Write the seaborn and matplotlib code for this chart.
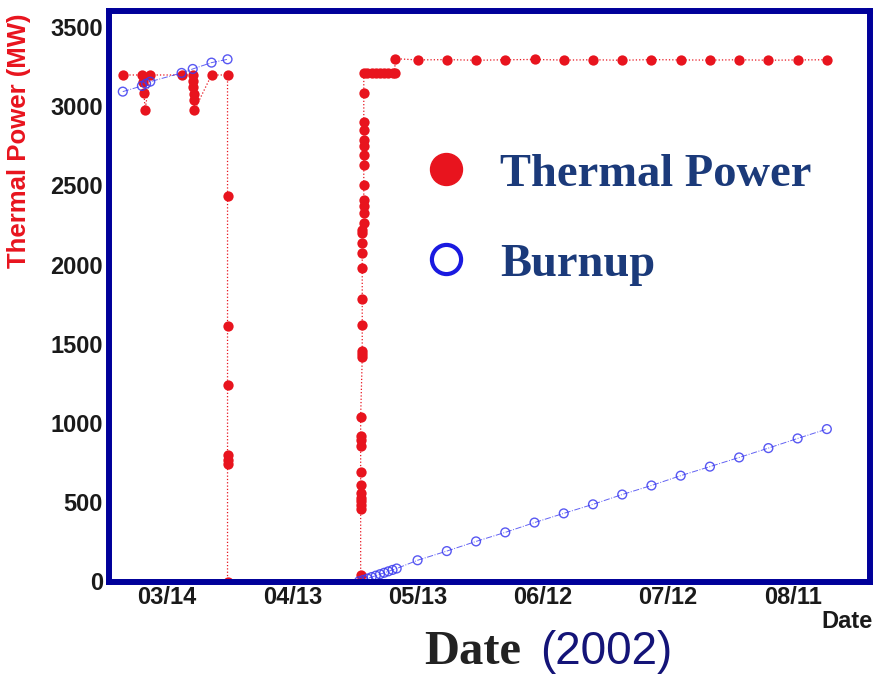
import matplotlib
matplotlib.use("Agg")
import matplotlib.pyplot as plt
from matplotlib.lines import Line2D
from matplotlib.ticker import MultipleLocator
import pandas as pd
import seaborn as sns

# thermal power readings (MW)
power_dates = (["2002-03-03 10:00", "2002-03-08 00:00", "2002-03-08 06:00", "2002-03-08 12:00",
                "2002-03-08 18:00", "2002-03-10 00:00", "2002-03-17 12:00", "2002-03-20 04:00",
                "2002-03-20 06:00", "2002-03-20 08:00", "2002-03-20 10:00", "2002-03-20 12:00",
                "2002-03-20 14:00", "2002-03-24 16:00"]
               + ["2002-03-28 12:00"] * 8
               + ["2002-04-29 09:00"] * 13
               + ["2002-04-29 18:00"] * 10
               + ["2002-04-30 03:00"] * 13
               + ["2002-05-01", "2002-05-02", "2002-05-03", "2002-05-04", "2002-05-05",
                  "2002-05-06", "2002-05-07", "2002-05-07 12:00", "2002-05-07 16:00"]
               + ["2002-05-13", "2002-05-20", "2002-05-27", "2002-06-03", "2002-06-10",
                  "2002-06-17", "2002-06-24", "2002-07-01", "2002-07-08", "2002-07-15",
                  "2002-07-22", "2002-07-29", "2002-08-05", "2002-08-12", "2002-08-19"])
power_mw = ([3197, 3197, 3150, 3085, 2976, 3197, 3197, 3197, 3160, 3120, 3080, 3040, 2976, 3197]
            + [3197, 2432, 1613, 1242, 800, 770, 740, 0]
            + [0, 40, 455, 480, 505, 530, 560, 606, 690, 858, 890, 921, 1040]
            + [1414, 1435, 1456, 1617, 1781, 1980, 2075, 2138, 2200, 2221]
            + [2265, 2327, 2368, 2410, 2505, 2631, 2693, 2746, 2788, 2850, 2903, 3082, 3208]
            + [3208, 3208, 3208, 3208, 3208, 3208, 3208, 3208, 3300]
            + [3292, 3294, 3290, 3293, 3295, 3291, 3293, 3290, 3294, 3292, 3291, 3293, 3290, 3292, 3293])

# burnup, two fuel runs
burnup_dates = (["2002-03-03 10:00", "2002-03-08 00:00", "2002-03-09 00:00", "2002-03-10 00:00",
                 "2002-03-17 12:00", "2002-03-20 04:00", "2002-03-24 16:00", "2002-03-28 12:00"]
                + ["2002-04-29", "2002-04-30", "2002-05-01", "2002-05-02", "2002-05-03",
                   "2002-05-04", "2002-05-05", "2002-05-06", "2002-05-07", "2002-05-08",
                   "2002-05-13", "2002-05-20", "2002-05-27", "2002-06-03", "2002-06-10",
                   "2002-06-17", "2002-06-24", "2002-07-01", "2002-07-08", "2002-07-15",
                   "2002-07-22", "2002-07-29", "2002-08-05", "2002-08-12", "2002-08-19"])
burnup_vals = ([3092, 3128, 3142, 3155, 3210, 3235, 3275, 3296]
               + [2, 10, 19, 28, 37, 46, 55, 64, 73, 82,
                  134, 192, 253, 310, 372, 430, 487, 549, 606, 668, 725, 783, 842, 903, 962])
burnup_run = [1] * 8 + [2] * 25

tick_dates = ["2002-03-14", "2002-04-13", "2002-05-13", "2002-06-12", "2002-07-12", "2002-08-11"]
tick_labels = ["03/14", "04/13", "05/13", "06/12", "07/12", "08/11"]

red = "#e8141e"
blue = "#3b3bf0"
navy = "#00009a"
text_navy = "#1b3a7a"

power = pd.DataFrame({"date": pd.to_datetime(power_dates, format="ISO8601"), "power": power_mw})
burnup = pd.DataFrame({"date": pd.to_datetime(burnup_dates, format="ISO8601"),
                       "burnup": burnup_vals, "run": burnup_run})

sns.set_style("white")
plt.rcParams["font.family"] = ["Liberation Sans", "DejaVu Sans"]

fig = plt.figure(figsize=(8.74, 6.77), dpi=100)
ax = fig.add_axes([108.5 / 874, 1 - 581.5 / 677, 761 / 874, 571 / 677])

# lines
sns.lineplot(data=power, x="date", y="power", estimator=None, sort=False,
             color=red, linestyle=":", linewidth=0.9, ax=ax)
sns.lineplot(data=burnup, x="date", y="burnup", units="run", estimator=None, sort=False,
             color=blue, linestyle="-.", linewidth=0.7, alpha=0.8, ax=ax)
# markers
sns.scatterplot(data=power, x="date", y="power", color=red, s=55, linewidth=0,
                legend=False, ax=ax, zorder=3)
sns.scatterplot(data=burnup, x="date", y="burnup", facecolor="none", edgecolor=blue,
                s=40, linewidth=1.0, alpha=0.85, legend=False, ax=ax, zorder=3)

ax.set_xlim(pd.Timestamp("2002-02-28"), pd.Timestamp("2002-08-29 05:00"))
ax.set_ylim(0, 3604)

ax.set_xticks(pd.to_datetime(tick_dates))
ax.set_xticklabels(tick_labels)
ax.set_xticks(pd.date_range("2002-03-06 12:00", "2002-08-26 12:00", freq="180h"), minor=True)
ax.set_yticks(range(0, 3501, 500))
ax.yaxis.set_minor_locator(MultipleLocator(250))

ax.tick_params(axis="both", which="both", direction="in", color="#555555", width=0.8,
               labelsize=17, labelcolor="#1a1a1a")
ax.tick_params(axis="x", which="major", length=14, pad=3)
ax.tick_params(axis="x", which="minor", length=8)
ax.tick_params(axis="y", which="major", length=19, pad=4)
ax.tick_params(axis="y", which="minor", length=11)
for lab in ax.get_xticklabels() + ax.get_yticklabels():
    lab.set_fontweight("bold")

ax.set_xlabel("")
ax.set_ylabel("")
for sp in ax.spines.values():
    sp.set_color(navy)
    sp.set_linewidth(4.3)
    sp.set_zorder(4)

handles = [Line2D([], [], marker="o", linestyle="none", markersize=23, color=red),
           Line2D([], [], marker="o", linestyle="none", markersize=21, markerfacecolor="none",
                  markeredgecolor="#1a1ae0", markeredgewidth=3)]
ax.legend(handles, ["Thermal Power", "Burnup"], loc="upper left",
          bbox_to_anchor=(423 / 874, 1 - 153 / 677), bbox_transform=fig.transFigure,
          frameon=False, handlelength=1.0, handletextpad=0.65, labelspacing=1.02,
          borderpad=0, borderaxespad=0,
          prop={"family": "Liberation Serif", "weight": "bold", "size": 33.5},
          labelcolor=text_navy)

fig.text(19 / 874, 1 - 13 / 677, "Thermal Power (MW)", rotation=90, ha="center", va="top",
         color=red, fontsize=18.5, fontweight="bold")
fig.text(873 / 874, 1 - 621 / 677, "Date", ha="right", va="center",
         fontsize=17, fontweight="bold", color="#1a1a1a")
fig.text(424 / 874, 1 - 664 / 677, "Date", ha="left", va="baseline",
         family="Liberation Serif", fontweight="bold", fontsize=35, color="#222222")
fig.text(540 / 874, 1 - 664 / 677, "(2002)", ha="left", va="baseline",
         fontsize=33, color="#141478")

fig.savefig("out.png", dpi=100, facecolor="white")
